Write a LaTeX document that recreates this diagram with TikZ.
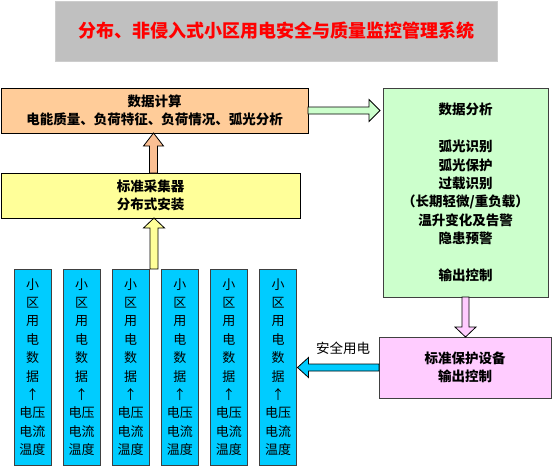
\documentclass[tikz,border=0pt]{standalone}
\usepackage{fontspec}
\setmainfont{Noto Sans CJK SC}
\usetikzlibrary{calc}
\definecolor{titlegray}{HTML}{C0C0C0}
\definecolor{titlered}{HTML}{FF0000}
\definecolor{orangefill}{HTML}{FFCC99}
\definecolor{orangearrow}{HTML}{FBBF93}
\definecolor{yellowfill}{HTML}{FFFF99}
\definecolor{greenfill}{HTML}{CCFFCC}
\definecolor{pinkfill}{HTML}{FFCCFF}
\definecolor{bluefill}{HTML}{00CCFF}
\definecolor{edgegray}{HTML}{404040}
\newcommand\blockarrow[6]{%
  \coordinate (bhA) at (#1);
  \coordinate (bhB) at (#2);
  \coordinate (bhH) at ($(bhB)!#5!(bhA)$);
  \draw[arrowline, fill=#6] ($(bhA)!#3!90:(bhB)$) -- ($(bhH)!#3!90:(bhB)$) -- ($(bhH)!#4!90:(bhB)$) -- (bhB) -- ($(bhH)!#4!-90:(bhB)$) -- ($(bhH)!#3!-90:(bhB)$) -- ($(bhA)!#3!-90:(bhB)$) -- cycle;}
\tikzset{
  box/.style={draw=black, line width=0.9pt, inner sep=0pt, outer sep=0pt, align=center},
  boldlabel/.style={font=\fontsize{13.5}{18.4}\selectfont\bfseries},
  bluebox/.style={box, draw=edgegray, fill=bluefill, minimum width=37pt, minimum height=196pt,
    font=\fontsize{13}{18.4}\selectfont},
  arrowline/.style={draw=black, line width=0.8pt, line join=miter},
}
\begin{document}
\begin{tikzpicture}[x=1pt, y=-1pt]
\useasboundingbox (0,0) rectangle (554,469);
% title
\node[fill=titlegray, draw=titlegray!80!white, line width=0.8pt, inner sep=0pt,
  minimum width=442pt, minimum height=60pt, text=titlered,
  font=\fontsize{18}{22}\selectfont\bfseries] (title) at (276,31)
  {分布、非侵入式小区用电安全与质量监控管理系统};
% orange box
\node[box, boldlabel, fill=orangefill, minimum width=307pt, minimum height=45pt] (calc) at (154.5,110.5)
  {数据计算\\电能质量、负荷特征、负荷情况、弧光分析};
% yellow box
\node[box, boldlabel, fill=yellowfill, minimum width=299pt, minimum height=45pt] (coll) at (150.5,195.5)
  {标准采集器\\分布式安装};
% green box
\node[box, boldlabel, draw=edgegray, fill=greenfill, minimum width=165pt, minimum height=209pt] (ana) at (465.5,192.5)
  {数据分析\\[18.4pt]弧光识别\\弧光保护\\过载识别\\（长期轻微/重负载）\\温升变化及告警\\隐患预警\\[18.4pt]输出控制};
% pink box
\node[box, boldlabel, draw=edgegray, fill=pinkfill, minimum width=172pt, minimum height=61pt] (prot) at (465,367.5)
  {标准保护设备\\输出控制};
% blue boxes
\foreach \i in {1,...,6}{
  \node[bluebox] (b\i) at ({32.5+49.1*(\i-1)},367)
    {小\\区\\用\\电\\数\\据\\↑\\电压\\电流\\温度};
}
% label
\node[font=\fontsize{13.5}{16}\selectfont, inner sep=0pt] (lbl) at (343,348) {安全用电};
% arrow end points
\coordinate (oA) at ($(coll.north)+(3,0)$);
\coordinate (oB) at (oA |- calc.south);
\coordinate (yB) at ($(coll.south)+(3.5,0)$);
\coordinate (yA) at (yB |- b3.north);
\coordinate (gB0) at (ana.west |- calc.east);
\coordinate (gB) at ($(gB0)+(-3,0)$);
\coordinate (pB) at (ana.south |- prot.north);
\coordinate (bB0) at (b6.east |- prot.west);
\coordinate (bB) at ($(bB0)+(1,0)$);
% arrows
\blockarrow{oA}{oB}{4pt}{10pt}{13pt}{orangearrow}
\blockarrow{yA}{yB}{4pt}{10.5pt}{10pt}{yellowfill}
\blockarrow{calc.east}{gB}{3.5pt}{11pt}{11pt}{greenfill}
\blockarrow{ana.south}{pB}{3.5pt}{10.5pt}{10pt}{pinkfill}
\blockarrow{prot.west}{bB}{3.5pt}{10pt}{11pt}{bluefill}
\end{tikzpicture}
\end{document}
